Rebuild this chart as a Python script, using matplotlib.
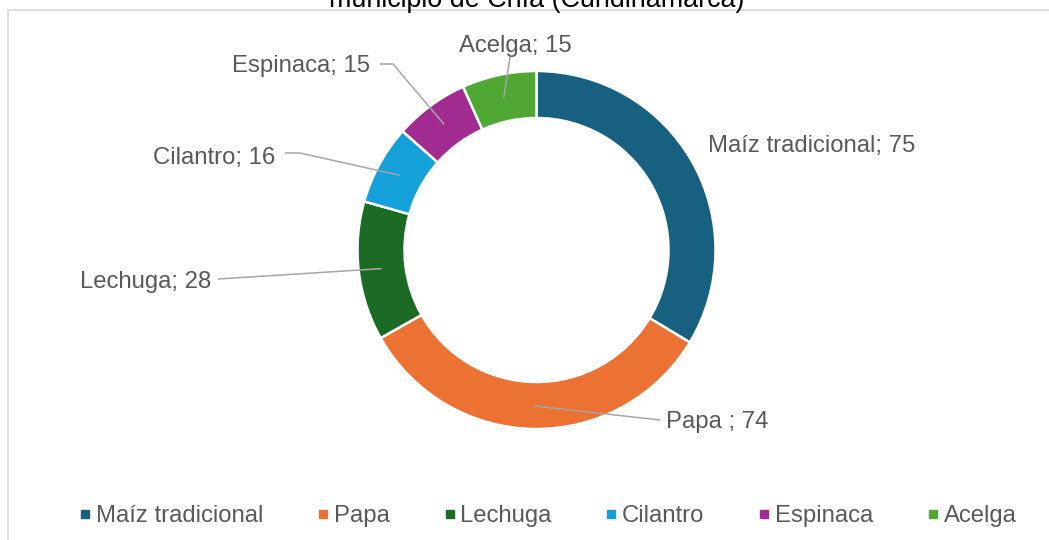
import numpy as np
import matplotlib.pyplot as plt
from matplotlib.lines import Line2D
from matplotlib.patches import Rectangle

plt.rcParams['font.family'] = ['Liberation Sans', 'DejaVu Sans']

cultivos = ['Maíz tradicional', 'Papa', 'Lechuga', 'Cilantro', 'Espinaca', 'Acelga']
valores = [75, 74, 28, 16, 15, 15]
etiquetas = ['Maíz tradicional; 75', 'Papa ; 74', 'Lechuga; 28',
             'Cilantro; 16', 'Espinaca; 15', 'Acelga; 15']
colores = ['#17607F', '#EB7232', '#1B6B25', '#14A0D8', '#A22B92', '#50A733']

W, H = 1049, 540
texto = '#595959'
gris = '#A6A6A6'
fs = 17.2


def py(p):
    # pixel (desde arriba) -> coordenada y
    return H - p


fig = plt.figure(figsize=(W / 100, H / 100), dpi=100)
ax = fig.add_axes([0, 0, 1, 1])

# borde del area del grafico
fig.patches.append(Rectangle((8 / W, -0.1), 1.2, (H - 10) / H + 0.1,
                             transform=fig.transFigure, fill=False,
                             edgecolor='#D9D9D9', linewidth=1.2))

cx, cy = 536.5, py(250)
R, ancho = 179, 47
ax.pie(valores, colors=colores, startangle=90, counterclock=False,
       radius=R, center=(cx, cy),
       wedgeprops=dict(width=ancho, edgecolor='white', linewidth=1.8))
ax.set_xlim(0, W)
ax.set_ylim(0, H)
ax.set_aspect('equal')
ax.axis('off')

# angulos medios de cada sector
total = sum(valores)
acum = np.cumsum(valores) - np.array(valores) / 2
ang = np.radians(90 - 360 * acum / total)
rm = 156
px_mid = cx + rm * np.cos(ang)
py_mid = cy + rm * np.sin(ang)

# etiquetas: (x, y pixel, ha, puntos de la linea guia)
pos = [
    (708, 146, 'left', None),
    (666, 422, 'left', [(660, 420)]),
    (211, 282, 'right', [(218, 279)]),
    (275, 158, 'right', [(285, 153), (300, 153)]),
    (370, 66, 'right', [(380, 64), (393, 64)]),
    (515, 46, 'center', [(510, 57)]),
]
for i, (x, y, ha, guia) in enumerate(pos):
    ax.text(x, py(y), etiquetas[i], ha=ha, va='center', fontsize=fs, color=texto)
    if guia:
        xs = [g[0] for g in guia] + [px_mid[i]]
        ys = [py(g[1]) for g in guia] + [py_mid[i]]
        ax.plot(xs, ys, color=gris, linewidth=1.1, solid_capstyle='butt')

fig.text(537 / W, (H - 7) / H, 'municipio de Chía (Cundinamarca)',
         ha='center', va='baseline', fontsize=19.4, color='black')

handles = [Line2D([], [], marker='s', linestyle='', markersize=5.5,
                  markerfacecolor=c, markeredgecolor=c) for c in colores]
leg = ax.legend(handles, cultivos, loc='center', ncol=6, frameon=False,
                bbox_to_anchor=(548 / W, 1 - 516 / H), fontsize=fs,
                handlelength=0.5, handletextpad=0.2, columnspacing=2.25,
                borderaxespad=0)
for t in leg.get_texts():
    t.set_color(texto)

fig.savefig('out.png', dpi=100, facecolor='white')
